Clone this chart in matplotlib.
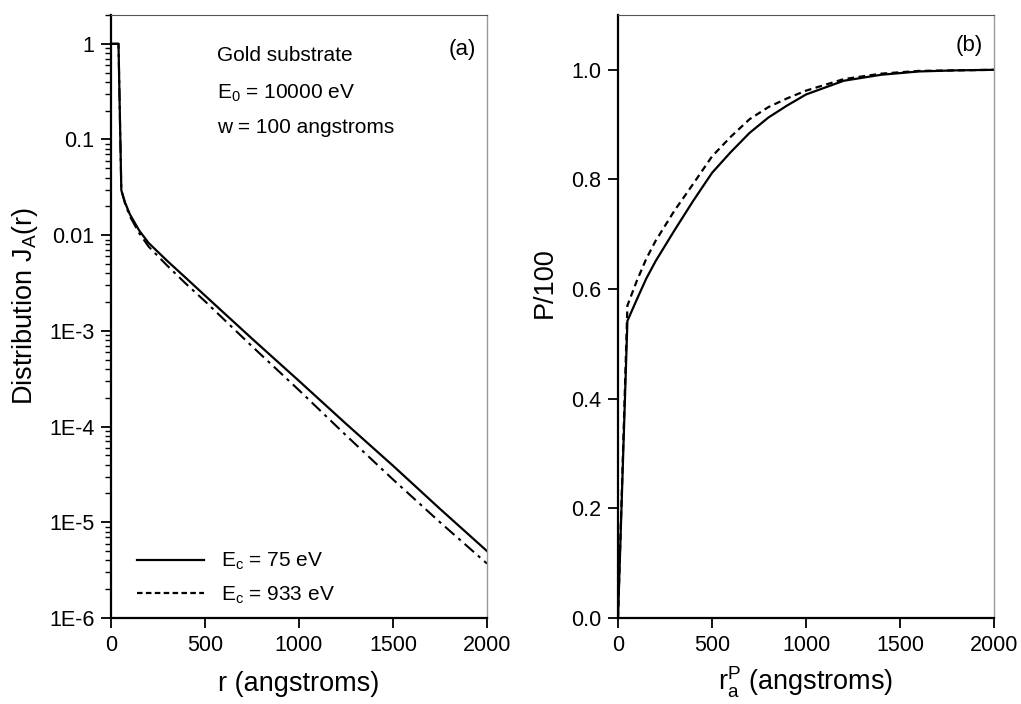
import numpy as np
import matplotlib.pyplot as plt
from matplotlib.lines import Line2D

plt.rcParams['font.family'] = ['Liberation Sans', 'DejaVu Sans']
plt.rcParams['mathtext.fontset'] = 'custom'
plt.rcParams['mathtext.rm'] = 'Liberation Sans'
plt.rcParams['mathtext.it'] = 'Liberation Sans'

# panel (a): distribution J_A(r), log scale
r_a = [0, 40, 55, 75, 100, 150, 200, 300, 400, 500, 750, 1000, 1250, 1500, 1750, 2000]
j_75 = [1, 1, 0.0295, 0.0219, 0.0166, 0.0112, 0.0083, 0.00537, 0.00355, 0.00234,
        8.3e-4, 3.0e-4, 1.07e-4, 3.9e-5, 1.38e-5, 5.0e-6]
j_933 = [1, 1, 0.0295, 0.0214, 0.0158, 0.0105, 0.0076, 0.00479, 0.00309, 0.00204,
         6.9e-4, 2.4e-4, 8.1e-5, 2.8e-5, 1.0e-5, 3.7e-6]

# panel (b): cumulative P/100
r_b = [0, 50, 100, 150, 200, 300, 400, 500, 600, 700, 800, 900, 1000, 1200, 1400, 1600, 1800, 2000]
p_75 = [0, 0.542, 0.581, 0.619, 0.651, 0.707, 0.761, 0.812, 0.850, 0.885, 0.913, 0.935,
        0.955, 0.980, 0.991, 0.997, 0.999, 1.0]
p_933 = [0, 0.570, 0.615, 0.655, 0.688, 0.743, 0.792, 0.842, 0.878, 0.910, 0.932, 0.948,
         0.962, 0.983, 0.993, 0.998, 0.999, 1.0]

log_ticks = [1, 0.1, 0.01, 1e-3, 1e-4, 1e-5, 1e-6]
log_labels = ["1", "0.1", "0.01", "1E-3", "1E-4", "1E-5", "1E-6"]
x_ticks = [0, 500, 1000, 1500, 2000]

fig = plt.figure(figsize=(10.21, 7.04), dpi=100)
ax1 = fig.add_axes([0.1087, 0.1222, 0.3683, 0.8565])
ax2 = fig.add_axes([0.6053, 0.1222, 0.3683, 0.8565])

ax1.plot(r_a, j_75, color='black', lw=1.6)
ax1.plot(r_a, j_933, color='black', lw=1.5, linestyle=(0, (6, 2.5, 1.5, 2.5)))
ax1.set_yscale('log')
ax1.set_ylim(1e-6, 2)
ax1.set_yticks(log_ticks)
ax1.set_yticklabels(log_labels)

ax2.plot(r_b, p_75, color='black', lw=1.6)
ax2.plot(r_b, p_933, color='black', lw=1.6, linestyle=(0, (3, 2)))
ax2.set_ylim(0, 1.1)
ax2.set_yticks(np.arange(0, 1.01, 0.2))
ax2.set_yticklabels(["%.1f" % v for v in np.arange(0, 1.01, 0.2)])

for ax in (ax1, ax2):
    ax.set_xlim(0, 2000)
    ax.set_xticks(x_ticks)
    ax.spines['left'].set_linewidth(1.6)
    ax.spines['bottom'].set_linewidth(1.6)
    ax.spines['top'].set_linewidth(0.8)
    ax.spines['top'].set_color('#555555')
    ax.spines['right'].set_linewidth(1.0)
    ax.spines['right'].set_color('#999999')
    ax.tick_params(which='major', direction='out', length=7, width=1.3, labelsize=15.5, pad=5)
    ax.tick_params(which='minor', direction='out', length=4, width=1.0)
    ax.tick_params(top=False, right=False)

ax1.set_xlabel("r (angstroms)", fontsize=19.5)
ax1.xaxis.set_label_coords(0.5, -0.088)
ax1.set_ylabel(r"Distribution $\mathregular{J_A(r)}$", fontsize=19.5)
ax1.yaxis.set_label_coords(-0.19, 0.517)

ax2.set_xlabel(r"$\mathregular{r_a^P}$ (angstroms)", fontsize=19.5)
ax2.xaxis.set_label_coords(0.5, -0.078)
ax2.set_ylabel("P/100", fontsize=19.5)
ax2.yaxis.set_label_coords(-0.16, 0.556)

ax1.text(0.282, 0.933, "Gold substrate", transform=ax1.transAxes, fontsize=15, va='center')
ax1.text(0.282, 0.87, r"$\mathregular{E_0}$ = 10000 eV", transform=ax1.transAxes, fontsize=15, va='center')
ax1.text(0.282, 0.814, "w = 100 angstroms", transform=ax1.transAxes, fontsize=15, va='center')
ax1.text(0.97, 0.942, "(a)", transform=ax1.transAxes, fontsize=16, ha='right', va='center')
ax2.text(0.97, 0.95, "(b)", transform=ax2.transAxes, fontsize=16, ha='right', va='center')

handles = [Line2D([], [], color='black', lw=1.6),
           Line2D([], [], color='black', lw=1.6, linestyle=(0, (2.5, 1.5)))]
ax1.legend(handles, [r"$\mathregular{E_c}$ = 75 eV", r"$\mathregular{E_c}$ = 933 eV"],
           loc='lower left', bbox_to_anchor=(0.07, 0.02), frameon=False, fontsize=15,
           handlelength=3.2, handletextpad=0.8, labelspacing=0.6, borderpad=0, borderaxespad=0)

fig.savefig("out.png", dpi=100)
